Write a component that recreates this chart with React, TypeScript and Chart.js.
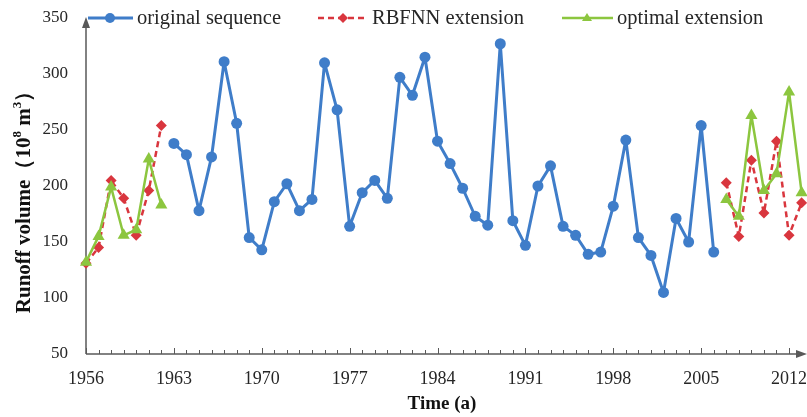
import React, { useEffect, useRef } from "react";
import { Chart, registerables } from "chart.js";

Chart.register(...registerables);

// ---- data ----
const LEFT_YEARS = [1956, 1957, 1958, 1959, 1960, 1961, 1962];
const RBF_LEFT = [131, 145, 205, 189, 156, 196, 254];
const OPT_LEFT = [132, 155, 199, 156, 161, 224, 183];

const ORIG_YEARS = Array.from({ length: 44 }, (_, i) => 1963 + i);
const ORIG_VALUES = [
  238, 228, 178, 226, 311, 256, 154, 143, 186, 202, 178, 188, 310, 268, 164,
  194, 205, 189, 297, 281, 315, 240, 220, 198, 173, 165, 327, 169, 147, 200,
  218, 164, 156, 139, 141, 182, 241, 154, 138, 105, 171, 150, 254, 141,
];

const RIGHT_YEARS = [2007, 2008, 2009, 2010, 2011, 2012, 2013];
const RBF_RIGHT = [203, 155, 223, 176, 240, 156, 185];
const OPT_RIGHT = [188, 173, 263, 196, 211, 284, 194];

const X_TICKS = [1956, 1963, 1970, 1977, 1984, 1991, 1998, 2005, 2012];
const Y_TICKS = [50, 100, 150, 200, 250, 300, 350];

const LEGEND_LABELS = ["original sequence", "RBFNN extension", "optimal extension"];
const X_TITLE = "Time (a)";

const BLUE = "#3F7DC9";
const RED = "#D9363E";
const GREEN = "#8CC63F";
const AXIS = "#595959";
const SERIF = "'Liberation Serif', 'Times New Roman', serif";

const pts = (xs: number[], ys: number[]) => xs.map((x, i) => ({ x, y: ys[i] }));

const axesPlugin = {
  id: "customAxes",
  beforeDatasetsDraw(chart: any) {
    const { ctx, chartArea, scales } = chart;
    const { left, right, top, bottom } = chartArea;
    const x = scales.x;
    ctx.save();
    ctx.strokeStyle = AXIS;
    ctx.fillStyle = AXIS;
    ctx.lineWidth = 1.5;
    // y axis
    ctx.beginPath();
    ctx.moveTo(left, bottom);
    ctx.lineTo(left, top + 4);
    ctx.stroke();
    ctx.beginPath();
    ctx.moveTo(left, top - 1);
    ctx.lineTo(left - 4, top + 10);
    ctx.lineTo(left + 4, top + 10);
    ctx.closePath();
    ctx.fill();
    // x axis
    ctx.beginPath();
    ctx.moveTo(left, bottom);
    ctx.lineTo(right - 4, bottom);
    ctx.stroke();
    ctx.beginPath();
    ctx.moveTo(right + 1, bottom);
    ctx.lineTo(right - 10, bottom - 4);
    ctx.lineTo(right - 10, bottom + 4);
    ctx.closePath();
    ctx.fill();
    // ticks every year, taller at labelled years
    ctx.lineWidth = 1;
    for (let yr = X_TICKS[0]; yr <= X_TICKS[X_TICKS.length - 1]; yr++) {
      const px = Math.round(x.getPixelForValue(yr)) + 0.5;
      const len = X_TICKS.includes(yr) ? 6 : 4;
      ctx.beginPath();
      ctx.moveTo(px, bottom);
      ctx.lineTo(px, bottom - len);
      ctx.stroke();
    }
    ctx.restore();
  },
  afterDraw(chart: any) {
    const { ctx } = chart;
    ctx.save();
    // legend
    const ly = 18;
    ctx.font = `20.5px ${SERIF}`;
    ctx.textBaseline = "middle";
    ctx.textAlign = "left";
    // blue
    ctx.strokeStyle = BLUE;
    ctx.lineWidth = 3;
    ctx.beginPath();
    ctx.moveTo(88, ly);
    ctx.lineTo(133, ly);
    ctx.stroke();
    ctx.fillStyle = BLUE;
    ctx.beginPath();
    ctx.arc(110, ly, 5, 0, Math.PI * 2);
    ctx.fill();
    ctx.fillStyle = "#262626";
    ctx.fillText(LEGEND_LABELS[0], 137, ly + 1);
    // red
    ctx.strokeStyle = RED;
    ctx.lineWidth = 2.5;
    ctx.setLineDash([6, 4]);
    ctx.beginPath();
    ctx.moveTo(318, ly);
    ctx.lineTo(368, ly);
    ctx.stroke();
    ctx.setLineDash([]);
    ctx.fillStyle = RED;
    ctx.beginPath();
    ctx.moveTo(343, ly - 5);
    ctx.lineTo(348, ly);
    ctx.lineTo(343, ly + 5);
    ctx.lineTo(338, ly);
    ctx.closePath();
    ctx.fill();
    ctx.fillStyle = "#262626";
    ctx.fillText(LEGEND_LABELS[1], 372, ly + 1);
    // green
    ctx.strokeStyle = GREEN;
    ctx.lineWidth = 2.5;
    ctx.beginPath();
    ctx.moveTo(562, ly);
    ctx.lineTo(613, ly);
    ctx.stroke();
    ctx.fillStyle = GREEN;
    ctx.beginPath();
    ctx.moveTo(587, ly - 5);
    ctx.lineTo(592, ly + 3);
    ctx.lineTo(582, ly + 3);
    ctx.closePath();
    ctx.fill();
    ctx.fillStyle = "#262626";
    ctx.fillText(LEGEND_LABELS[2], 617, ly + 1);

    // x title
    ctx.font = `bold 19px ${SERIF}`;
    ctx.textAlign = "center";
    ctx.fillStyle = "#111";
    ctx.fillText(X_TITLE, 442, 404);

    // y title with superscripts
    ctx.translate(25, 197);
    ctx.rotate(-Math.PI / 2);
    const big = `bold 21px ${SERIF}`;
    const small = `bold 13px ${SERIF}`;
    const parts: [string, string, number][] = [
      ["Runoff volume", big, 0],
      ["（", big, 0],
      ["10", big, 0],
      ["8", small, -7],
      [" m", big, 0],
      ["3", small, -7],
      ["）", big, 0],
    ];
    let total = 0;
    for (const [t, f] of parts) {
      ctx.font = f;
      total += ctx.measureText(t).width;
    }
    let cx = -total / 2;
    ctx.textAlign = "left";
    ctx.textBaseline = "middle";
    for (const [t, f, dy] of parts) {
      ctx.font = f;
      ctx.fillText(t, cx, dy);
      cx += ctx.measureText(t).width;
    }
    ctx.restore();
  },
};

export default function App() {
  const ref = useRef<HTMLCanvasElement | null>(null);
  useEffect(() => {
    if (!ref.current) return;
    const redStyle = {
      borderColor: RED,
      backgroundColor: RED,
      borderWidth: 2.5,
      borderDash: [6, 4],
      borderJoinStyle: "round",
      pointStyle: "rectRot",
      pointRadius: 5.5,
      pointBorderWidth: 0,
      order: 3,
    };
    const greenStyle = {
      borderColor: GREEN,
      backgroundColor: GREEN,
      borderWidth: 2.5,
      borderJoinStyle: "round",
      pointStyle: "triangle",
      pointRadius: 7,
      pointBorderWidth: 0,
      order: 2,
    };
    const chart = new Chart(ref.current, {
      type: "line",
      data: {
        datasets: [
          {
            label: LEGEND_LABELS[0],
            data: pts(ORIG_YEARS, ORIG_VALUES),
            borderColor: BLUE,
            backgroundColor: BLUE,
            borderWidth: 3,
            borderJoinStyle: "round",
            pointStyle: "circle",
            pointRadius: 5.5,
            pointBorderWidth: 0,
            order: 1,
          },
          { label: LEGEND_LABELS[1], data: pts(LEFT_YEARS, RBF_LEFT), ...redStyle },
          { label: LEGEND_LABELS[1], data: pts(RIGHT_YEARS, RBF_RIGHT), ...redStyle },
          { label: LEGEND_LABELS[2], data: pts(LEFT_YEARS, OPT_LEFT), ...greenStyle },
          { label: LEGEND_LABELS[2], data: pts(RIGHT_YEARS, OPT_RIGHT), ...greenStyle },
        ] as any,
      },
      options: {
        animation: false,
        responsive: false,
        events: [],
        layout: { autoPadding: false, padding: { top: 18, right: 1, left: 0, bottom: 0 } },
        datasets: { line: { clip: false as any, tension: 0 } },
        plugins: { legend: { display: false }, tooltip: { enabled: false } },
        scales: {
          x: {
            type: "linear",
            min: 1956,
            max: 2013.35,
            grid: { display: false, drawTicks: false },
            border: { display: false },
            afterBuildTicks: (s: any) => {
              s.ticks = X_TICKS.map((v) => ({ value: v }));
            },
            afterFit: (s: any) => {
              s.height = 63;
              s.paddingLeft = 0;
              s.paddingRight = 0;
            },
            ticks: {
              autoSkip: false,
              maxRotation: 0,
              padding: 14,
              color: "#262626",
              font: { family: SERIF, size: 18 },
              callback: (v: any) => String(v),
            },
          },
          y: {
            type: "linear",
            min: 50,
            max: 350,
            grid: { display: false, drawTicks: false },
            border: { display: false },
            afterBuildTicks: (s: any) => {
              s.ticks = Y_TICKS.map((v) => ({ value: v }));
            },
            afterFit: (s: any) => {
              s.width = 86;
              s.paddingTop = 0;
              s.paddingBottom = 0;
            },
            ticks: {
              padding: 18,
              color: "#262626",
              font: { family: SERIF, size: 17 },
            },
          },
        },
      },
      plugins: [axesPlugin],
    });
    return () => chart.destroy();
  }, []);
  return (
    <div style={{ position: "absolute", left: 0, top: 0, width: 807, height: 417, background: "#fff" }}>
      <canvas ref={ref} width={807} height={417} style={{ display: "block" }} />
    </div>
  );
}
